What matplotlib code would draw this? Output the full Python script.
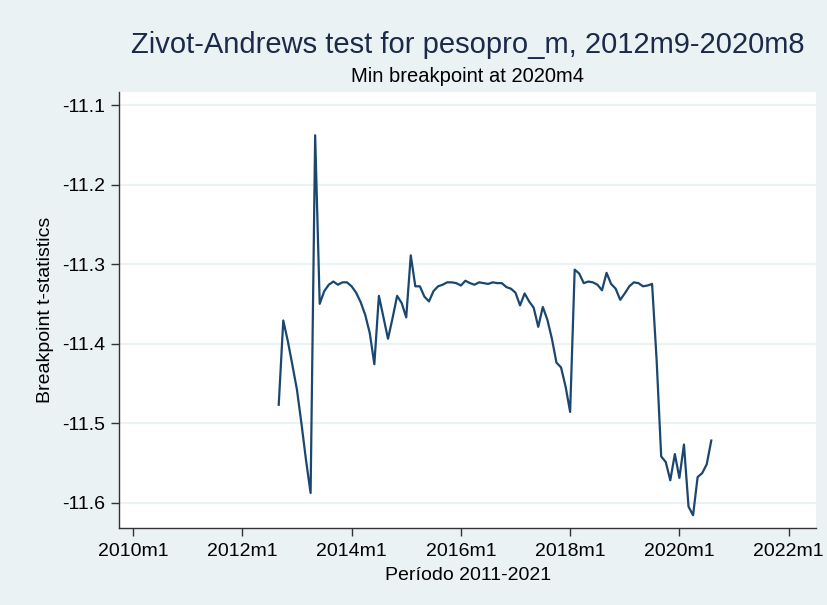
import numpy as np
import matplotlib.pyplot as plt

plt.rcParams['font.family'] = ['Liberation Sans', 'DejaVu Sans']

# estadisticas t do teste Zivot-Andrews, 2012m9 a 2020m8 (mensal)
inicio_ano, inicio_mes = 2012, 9
tstat = [
    -11.477, -11.371, -11.397, -11.427, -11.458, -11.501, -11.547, -11.588,
    -11.138, -11.350, -11.334, -11.326, -11.322, -11.326, -11.323, -11.323,
    -11.328, -11.336, -11.348, -11.364, -11.387, -11.426, -11.340, -11.367,
    -11.394, -11.368, -11.340, -11.349, -11.367, -11.289, -11.328, -11.328,
    -11.341, -11.347, -11.334, -11.328, -11.326, -11.323, -11.323, -11.324,
    -11.327, -11.321, -11.324, -11.326, -11.323, -11.324, -11.325, -11.323,
    -11.324, -11.324, -11.329, -11.331, -11.336, -11.352, -11.337, -11.347,
    -11.355, -11.379, -11.354, -11.370, -11.394, -11.424, -11.430, -11.454,
    -11.486, -11.307, -11.312, -11.324, -11.322, -11.323, -11.326, -11.333,
    -11.311, -11.325, -11.331, -11.345, -11.337, -11.328, -11.323, -11.324,
    -11.328, -11.327, -11.325, -11.421, -11.542, -11.549, -11.572, -11.539,
    -11.569, -11.527, -11.605, -11.616, -11.568, -11.563, -11.552, -11.522,
]

anos_ticks = [2010, 2012, 2014, 2016, 2018, 2020, 2022]
y_ticks = [-11.1, -11.2, -11.3, -11.4, -11.5, -11.6]

# tempo em anos fracionarios
t = inicio_ano + (inicio_mes - 1) / 12 + np.arange(len(tstat)) / 12

fundo = '#EAF2F3'
azul = '#1A476F'

fig = plt.figure(figsize=(8.28, 6.05), dpi=100, facecolor=fundo)
ax = fig.add_axes([0.1441, 0.1273, 0.8414, 0.7206])
ax.set_facecolor('white')

ax.plot(t, tstat, color=azul, linewidth=1.6)

ax.set_xlim(2009.749, 2022.5)
ax.set_ylim(-11.632, -11.0836)
ax.set_xticks(anos_ticks)
ax.set_xticklabels([f'{a}m1' for a in anos_ticks])
ax.set_yticks(y_ticks)
ax.set_yticklabels([f'{v:.1f}' for v in y_ticks])

ax.grid(axis='y', color=fundo, linewidth=1.5)
ax.set_axisbelow(True)
for lado in ['top', 'right']:
    ax.spines[lado].set_visible(False)
for lado in ['left', 'bottom']:
    ax.spines[lado].set_color('#333333')
    ax.spines[lado].set_linewidth(1.0)
ax.tick_params(axis='x', length=6, width=1.0, color='#333333',
               labelsize=14, pad=5)
ax.tick_params(axis='y', length=6, width=1.0, color='#333333',
               labelsize=14, pad=4)

ax.set_xlabel('Período 2011-2021', fontsize=14, labelpad=5)
ax.set_ylabel('Breakpoint t-statistics', fontsize=14, labelpad=6)

fig.text(0.5648, 0.926, 'Zivot-Andrews test for pesopro_m, 2012m9-2020m8',
         ha='center', va='center', fontsize=21, color='#1c2a4a')
fig.text(0.5648, 0.873, 'Min breakpoint at 2020m4',
         ha='center', va='center', fontsize=14.5)

fig.savefig('out.png', dpi=100, facecolor=fundo)
